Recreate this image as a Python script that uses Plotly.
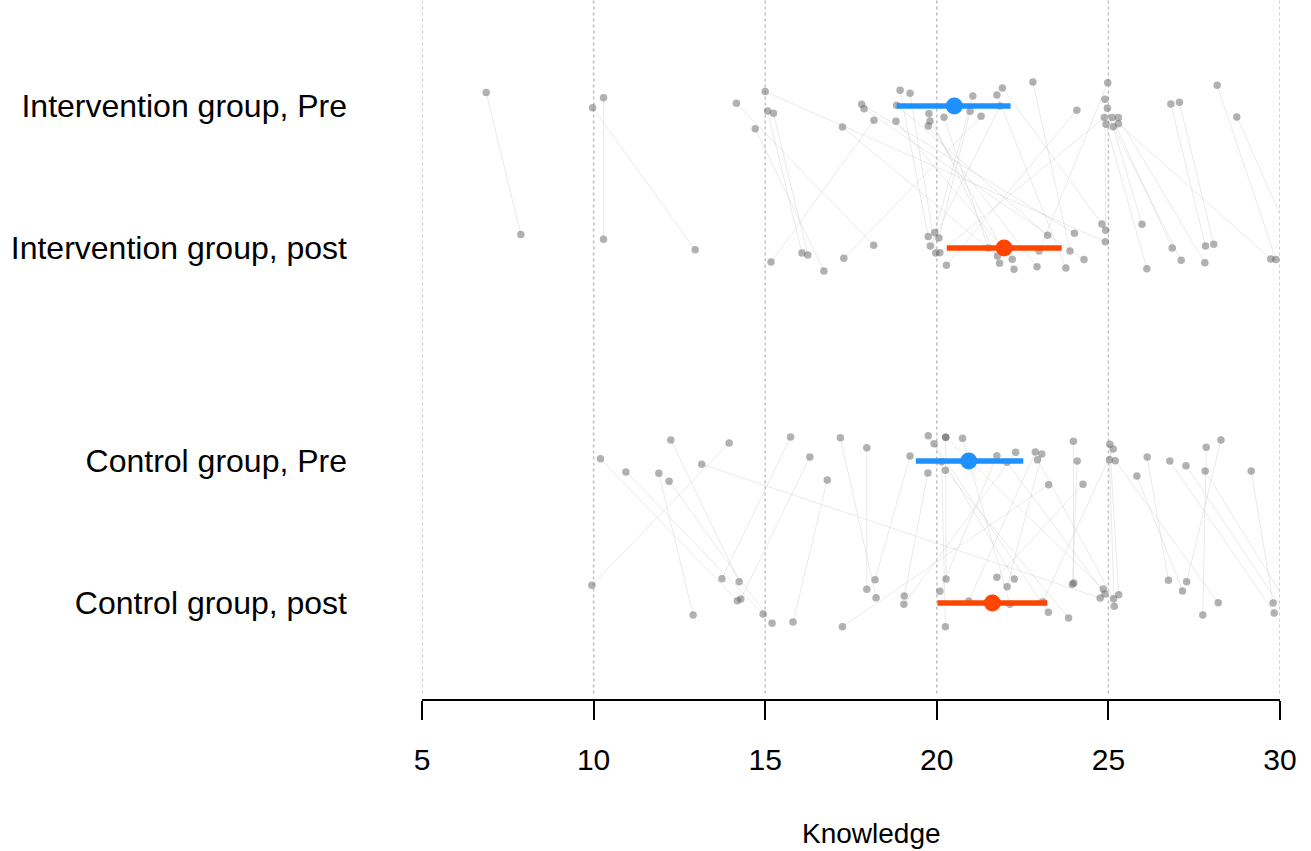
import plotly.graph_objects as go

# ---- Row layout (categories) ----
row_labels = ["Intervention group, Pre", "Intervention group, post",
              "Control group, Pre", "Control group, post"]
row_pos = [3.5, 2.5, 1.0, 0.0]

# ---- Intervention group: each subject's pre/post score and vertical jitter ----
int_pre_x = [6.87, 10.29, 9.97, 14.16, 14.71, 15.00, 15.07, 15.24, 17.25, 17.81,
             17.88, 18.93, 19.22, 18.17, 18.81, 18.83, 19.77, 19.80, 19.75, 20.21,
             20.97, 21.05, 21.29, 21.75, 21.91, 21.84, 22.80, 24.08, 24.98, 24.90,
             24.97, 24.88, 25.11, 25.29, 24.93, 25.14, 25.29, 26.82, 27.07, 28.17, 28.74]
int_pre_jit = [0.094, 0.058, -0.012, 0.019, -0.160, 0.101, -0.035, -0.051, -0.148, 0.012,
               -0.019, 0.111, 0.089, -0.101, -0.108, 0.005, -0.054, -0.106, -0.141, -0.080,
               -0.037, 0.070, -0.073, 0.077, 0.127, 0.000, 0.169, -0.030, 0.164, 0.047,
               -0.016, -0.082, -0.082, -0.082, -0.129, -0.146, -0.125, 0.014, 0.026, 0.146, -0.077]
int_post_x = [7.88, 10.29, 12.96, 18.16, 16.71, 24.91, 16.07, 16.24, 21.77, 24.01,
              24.29, 19.75, 19.97, 15.17, 22.20, 23.23, 21.83, 22.25, 22.92, 21.50,
              20.06, 19.94, 17.29, 23.76, 24.81, 19.81, 23.88, 20.28, 22.98, 24.92,
              25.98, 20.09, 26.86, 27.81, 26.12, 27.12, 29.73, 27.83, 28.07, 29.88, 30.18]
int_post_jit = [0.094, 0.061, -0.012, 0.019, -0.162, 0.044, -0.035, -0.049, -0.056, 0.104,
                -0.082, 0.080, -0.035, -0.099, -0.080, 0.089, -0.108, -0.150, -0.132, 0.000,
                0.070, 0.108, -0.073, -0.141, 0.169, 0.014, -0.021, -0.122, -0.021, 0.125,
                0.167, -0.033, 0.000, -0.104, -0.146, -0.087, -0.077, 0.014, 0.026, -0.082, 0.143]

# ---- Control group ----
ctl_pre_x = [10.20, 10.94, 12.25, 11.90, 12.20, 13.15, 13.95, 15.74, 16.30, 16.81,
             17.19, 17.96, 19.22, 19.75, 19.92, 20.26, 20.26, 20.75, 20.14, 20.25,
             19.74, 21.75, 22.04, 22.30, 22.87, 23.06, 22.93, 23.26, 23.98, 24.09,
             24.26, 25.04, 25.14, 25.03, 25.20, 25.83, 26.13, 26.79, 27.26, 27.85,
             28.28, 27.82, 29.16]
ctl_pre_jit = [0.016, -0.077, 0.148, -0.087, -0.143, -0.023, 0.127, 0.169, 0.028, -0.134,
               0.164, 0.094, 0.035, 0.178, 0.122, 0.167, 0.167, 0.160, -0.005, -0.065,
               -0.085, 0.037, -0.009, 0.061, 0.063, 0.049, 0.009, -0.167, 0.139, 0.000,
               -0.164, 0.118, 0.085, 0.009, 0.002, -0.106, 0.028, 0.000, -0.033, 0.096,
               0.148, -0.070, -0.070]
ctl_post_x = [14.19, 14.94, 14.24, 12.90, 15.20, 24.76, 9.95, 13.74, 14.29, 15.81,
              18.23, 17.96, 18.20, 22.26, 23.25, 20.27, 24.85, 22.13, 20.25, 23.84,
              19.05, 20.09, 24.90, 19.04, 20.93, 22.05, 25.15, 17.25, 23.99, 23.95,
              21.75, 25.30, 23.09, 25.17, 28.20, 27.16, 26.75, 29.83, 30.15, 27.75,
              27.28, 30.28, 29.80]
ctl_post_jit = [0.016, -0.077, 0.150, -0.085, -0.143, 0.035, 0.125, 0.171, 0.028, -0.134,
                0.037, 0.096, 0.164, 0.169, -0.065, 0.169, 0.099, -0.009, -0.167, -0.106,
                0.049, 0.082, 0.063, -0.009, 0.014, 0.115, 0.030, -0.167, 0.141, 0.132,
                0.181, 0.058, 0.009, -0.023, 0.002, 0.085, 0.160, -0.070, -0.073, -0.085,
                0.150, -0.035, 0.000]

# ---- Group means with intervals ----
mean_x = [20.51, 21.96, 20.93, 21.62]
ci_lo = [18.83, 20.29, 19.39, 20.02]
ci_hi = [22.15, 23.64, 22.52, 23.22]
mean_colors = ["#1E90FF", "#FF4500", "#1E90FF", "#FF4500"]

x_ticks = [5, 10, 15, 20, 25, 30]
x_title = "Knowledge"

FONT = "Liberation Sans, Arial, sans-serif"

fig = go.Figure()

# connecting lines (pre -> post per subject)
groups = [
    (int_pre_x, int_pre_jit, int_post_x, int_post_jit, row_pos[0], row_pos[1]),
    (ctl_pre_x, ctl_pre_jit, ctl_post_x, ctl_post_jit, row_pos[2], row_pos[3]),
]
lx, ly = [], []
for px, pj, qx, qj, r1, r2 in groups:
    for a, b, c, d in zip(px, pj, qx, qj):
        lx += [a, c, None]
        ly += [r1 + b, r2 + d, None]
fig.add_trace(go.Scatter(x=lx, y=ly, mode="lines",
                         line=dict(color="rgba(205,205,205,0.42)", width=1),
                         hoverinfo="skip", showlegend=False))

# points
sx, sy = [], []
for px, pj, qx, qj, r1, r2 in groups:
    sx += list(px) + list(qx)
    sy += [r1 + j for j in pj] + [r2 + j for j in qj]
fig.add_trace(go.Scatter(x=sx, y=sy, mode="markers",
                         marker=dict(size=7.5, color="rgba(95,95,95,0.48)", line=dict(width=0)),
                         cliponaxis=False, showlegend=False))

# means and intervals
for m, lo, hi, col, r in zip(mean_x, ci_lo, ci_hi, mean_colors, row_pos):
    fig.add_trace(go.Scatter(x=[lo, hi], y=[r, r], mode="lines",
                             line=dict(color=col, width=5.5),
                             showlegend=False, hoverinfo="skip"))
    fig.add_trace(go.Scatter(x=[m], y=[r], mode="markers",
                             marker=dict(size=17, color=col, line=dict(width=0)),
                             showlegend=False))

# dotted vertical reference lines at every tick (including the ends)
shapes = [dict(type="line", xref="x", yref="paper", x0=t, x1=t, y0=0.008, y1=1,
               line=dict(color="#c0c0c0", width=1.5, dash="dot"), layer="below")
          for t in x_ticks]

fig.update_layout(
    width=1311, height=851,
    margin=dict(l=422, r=31, t=0, b=152),
    paper_bgcolor="white", plot_bgcolor="white",
    font=dict(family=FONT, color="black"),
    shapes=shapes,
    xaxis=dict(range=[5, 30], tickvals=x_ticks, ticktext=[str(t) for t in x_ticks],
               showgrid=False, zeroline=False, showline=True, linecolor="black", linewidth=1.5,
               ticks="outside", ticklen=19, tickwidth=1.5, tickcolor="black",
               tickfont=dict(size=30, family=FONT, color="black"),
               ticklabelstandoff=14),
    yaxis=dict(range=[-0.676, 4.246], tickvals=row_pos, ticktext=row_labels,
               showgrid=False, zeroline=False, showline=False, ticks="",
               tickfont=dict(size=32, family=FONT, color="black"),
               ticklabelstandoff=74),
    annotations=[dict(text=x_title, xref="paper", yref="paper",
                      x=(871 - 422) / 858, y=(699 - 833) / 699,
                      xanchor="center", yanchor="middle", showarrow=False,
                      font=dict(size=28, family=FONT, color="black"))],
)

fig.write_html("out.html", config={"displayModeBar": False},
               post_script="document.body.style.margin='0';")
